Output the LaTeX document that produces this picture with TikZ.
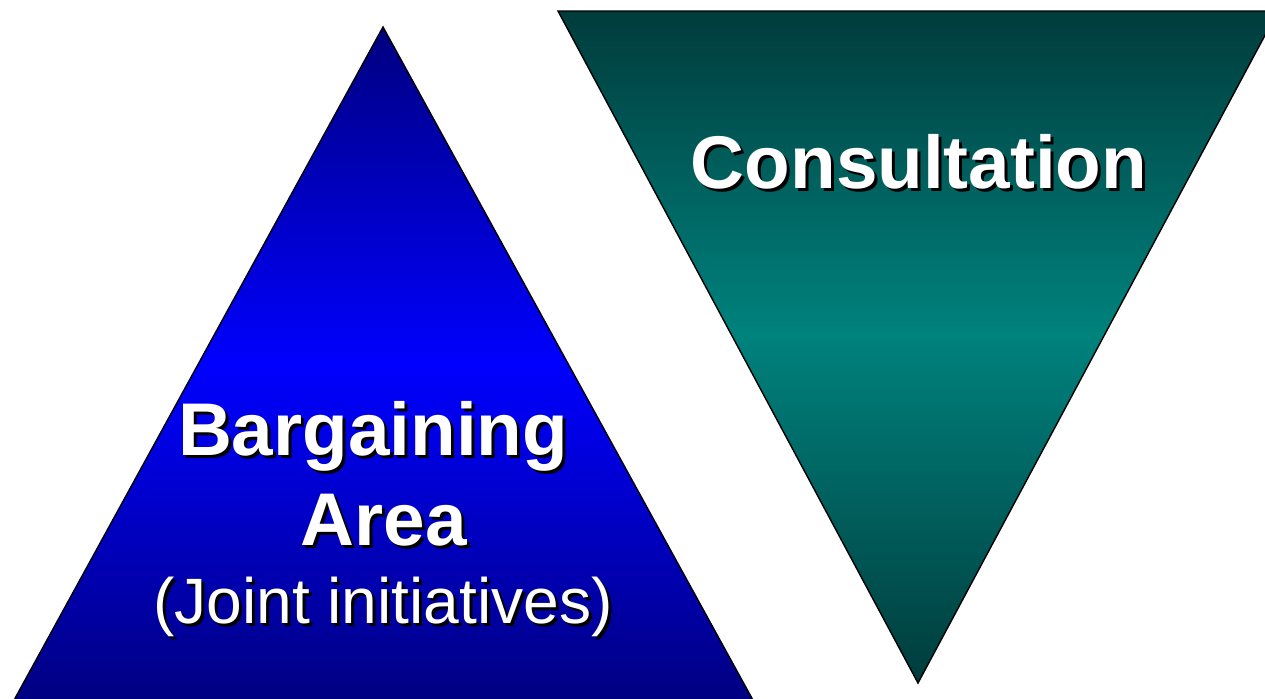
\documentclass[tikz,border=0pt]{standalone}
\usepackage{fontspec}
\setmainfont{Liberation Sans}
\usetikzlibrary{calc}
\definecolor{navyedge}{HTML}{000080}
\definecolor{brightblue}{HTML}{0000FF}
\definecolor{tealedge}{HTML}{003C3C}
\definecolor{tealmid}{HTML}{00827D}
\pgfdeclareverticalshading{tealfade}{100bp}{color(0bp)=(tealedge);
  color(25bp)=(tealedge); color(51bp)=(tealmid); color(75bp)=(tealedge);
  color(100bp)=(tealedge)}
% white label with a black drop shadow
\newcommand{\shadowlabel}[4]{%
  \node[#3, text=black] at ($(#2)+(3,3)$) {#4};
  \node[#3, text=white] (#1) at (#2) {#4};}

\begin{document}
\begin{tikzpicture}[x=0.02cm, y=-0.02cm,
    pyramid/.style={draw=black, line width=0.8pt, line join=miter},
    bigword/.style={anchor=base, inner sep=0pt,
      font=\fontsize{42.5}{48}\selectfont\bfseries},
    smallword/.style={anchor=base, inner sep=0pt,
      font=\fontsize{36.5}{42}\selectfont}]
  \useasboundingbox (0,0) rectangle (1265,698);
  \begin{scope}
    \clip (0,0) rectangle (1265,698);
    % bargaining triangle
    \draw[pyramid, top color=navyedge, bottom color=navyedge,
          middle color=brightblue]
      (383,27) -- (754,702) -- (13,702) -- cycle;
    % consultation triangle
    \draw[pyramid, shading=tealfade]
      (558,11) -- (1278,11) -- (918,683) -- cycle;
  \end{scope}
  \shadowlabel{bargain}{373,455}{bigword}{Bargaining}
  \shadowlabel{area}{384,545}{bigword}{Area}
  \shadowlabel{joint}{383,623}{smallword}{(Joint initiatives)}
  \shadowlabel{consult}{919,188}{bigword}{Consultation}
\end{tikzpicture}
\end{document}
